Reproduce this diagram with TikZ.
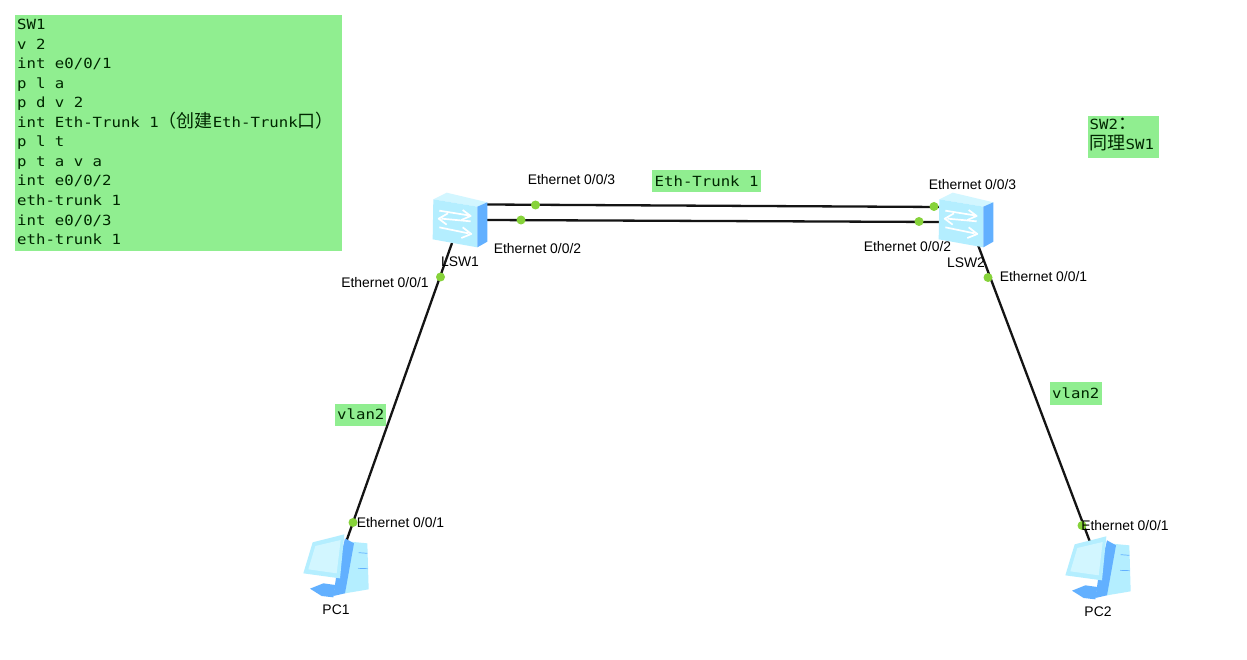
\documentclass[tikz,border=0pt]{standalone}
\usepackage{fontspec}
\setmainfont{Liberation Sans}
\newfontfamily\codefont[FakeStretch=1.12]{DejaVu Sans Mono}
\newfontfamily\cjk{Noto Sans CJK SC}
\newcommand{\cjkbig}{\cjk\fontsize{18}{19}\selectfont}
\definecolor{notegreen}{HTML}{90EE90}
\definecolor{portgreen}{HTML}{86D23A}
\definecolor{iconlight}{HTML}{B4EEFF}
\definecolor{iconmid}{HTML}{A0E6FF}
\definecolor{iconpale}{HTML}{D2F6FF}
\definecolor{iconblue}{HTML}{62B0FF}
\tikzset{
  x=1pt,y=-1pt,
  codetext/.style={font=\codefont\fontsize{14}{19.55}\selectfont,text=black!85!green,inner sep=0pt,anchor=north west,align=left},
  portlabel/.style={font=\fontsize{13.9}{15}\selectfont,inner sep=0pt,text=black},
  port/.style={circle,fill=portgreen,minimum size=9pt,inner sep=0pt},
  link/.style={line width=2.3pt,black!92},
  anchorbox/.style={inner sep=0pt,minimum width=54pt,minimum height=50pt},
  switchicon/.pic={
    \begin{scope}[shift={(-60,-50)},scale=1/3]
      \fill[iconpale] (100,88) -- (140,68) -- (262,97) -- (232,110) -- cycle;
      \fill[iconlight] (100,88) -- (232,110) -- (232,232) -- (98,208) -- cycle;
      \fill[iconblue] (232,110) -- (262,97) -- (262,215) -- (232,232) -- cycle;
      \draw[white,line width=1.7pt,line join=round] (118,122) -- (205,136) (188,120) -- (212,138) -- (184,150);
      \draw[white,line width=1.7pt,line join=round] (212,154) -- (125,146) (144,130) -- (116,146) -- (140,164);
      \draw[white,line width=1.7pt,line join=round] (118,172) -- (205,190) (188,172) -- (214,192) -- (184,204);
    \end{scope}
  },
  pcicon/.pic={
    \begin{scope}[shift={(-45,-55)},scale=1/3]
      \fill[iconlight] (180,95) -- (232,100) -- (236,238) -- (165,250) -- cycle;
      \fill[iconblue] (165,85) -- (192,100) -- (165,250) -- (130,258) -- (140,190) -- cycle;
      \fill[iconblue] (60,236) -- (100,220) -- (136,225) -- (130,262) -- (95,258) -- cycle;
      \fill[iconlight] (68,97) -- (163,73) -- (150,205) -- (40,190) -- cycle;
      \fill[iconpale] (76,108) -- (152,90) -- (140,190) -- (55,178) -- cycle;
      \draw[iconblue,line width=.7pt] (206,128) -- (232,130) (204,175) -- (233,176);
    \end{scope}
  }
}
\begin{document}
\begin{tikzpicture}[x=1pt,y=-1pt]
\useasboundingbox[fill=white] (0,0) rectangle (1247,660);

% note boxes
\fill[notegreen] (15,15) rectangle (342,251);
\fill[notegreen] (652,170) rectangle (761,192);
\fill[notegreen] (1088,116) rectangle (1159,158);
\fill[notegreen] (335,404) rectangle (386,426);
\fill[notegreen] (1050,382) rectangle (1102,405);

\node[codetext] (cfg) at (17,19) {SW1\\v 2\\int e0/0/1\\p l a\\p d v 2\\int Eth-Trunk 1{\cjkbig （创建}Eth-Trunk{\cjkbig 口）}\\p l t\\p t a v a\\int e0/0/2\\eth-trunk 1\\int e0/0/3\\eth-trunk 1};
\node[codetext,anchor=west] (trunk) at (654.5,181) {Eth-Trunk 1};
\node[codetext,anchor=north west] (sw2a) at (1089.5,118) {SW2{\cjkbig ：}};
\node[codetext,anchor=north west] (sw2b) at (1089.5,135) {{\cjkbig 同理}SW1};
\node[codetext,anchor=west] (vl1) at (337,414.5) {vlan2};
\node[codetext,anchor=west] (vl2) at (1052,393.5) {vlan2};

% devices (anchors)
\node[anchorbox] (lsw1) at (460,220) {};
\node[anchorbox] (lsw2) at (966,220) {};
\node[anchorbox] (pc1) at (335,565) {};
\node[anchorbox] (pc2) at (1097,567) {};

% connector end coordinates
\coordinate (l1a) at (487,204.5);
\coordinate (l1b) at (487,220);
\coordinate (l1c) at (452,243);
\coordinate (l2a) at (940,207);
\coordinate (l2b) at (940,222);
\coordinate (l2c) at (978,245);
\coordinate (p1) at (345,545);
\coordinate (p2) at (1090,542);

% links
\draw[link] (l1a) -- (l2a);
\draw[link] (l1b) -- (l2b);
\draw[link] (l1c) -- (p1);
\draw[link] (l2c) -- (p2);

% icons
\pic at (lsw1) {switchicon};
\pic at (lsw2) {switchicon};
\pic at (pc1) {pcicon};
\pic at (pc2) {pcicon};

% ports
\node[port] (d1) at (535.5,205) {};
\node[port] (d2) at (521,220) {};
\node[port] (d3) at (934,206.5) {};
\node[port] (d4) at (919,221.5) {};
\node[port] (d5) at (440.5,277) {};
\node[port] (d6) at (988,277.5) {};
\node[port] (d7) at (353,522.5) {};
\node[port] (d8) at (1082,525.5) {};

% labels
\node[portlabel] (t1) at (571.5,179.5) {Ethernet 0/0/3};
\node[portlabel] (t2) at (537.5,248.5) {Ethernet 0/0/2};
\node[portlabel] (t3) at (385,282.5) {Ethernet 0/0/1};
\node[portlabel] (t4) at (972.5,185) {Ethernet 0/0/3};
\node[portlabel] (t5) at (907.5,247) {Ethernet 0/0/2};
\node[portlabel] (t6) at (1043.5,277) {Ethernet 0/0/1};
\node[portlabel] (t7) at (400.5,523) {Ethernet 0/0/1};
\node[portlabel] (t8) at (1125,526) {Ethernet 0/0/1};
\node[portlabel] (n1) at (460,262) {LSW1};
\node[portlabel] (n2) at (966,263) {LSW2};
\node[portlabel] (n3) at (336,610) {PC1};
\node[portlabel] (n4) at (1098,612) {PC2};
\end{tikzpicture}
\end{document}
